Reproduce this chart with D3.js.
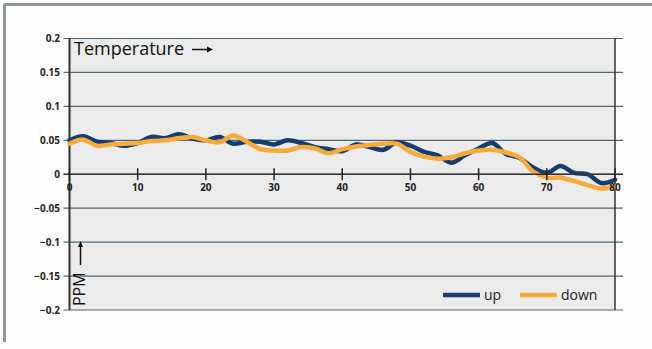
<!DOCTYPE html>
<html>
<head>
<meta charset="utf-8">
<script src="https://cdn.jsdelivr.net/npm/d3@7"></script>
<style>
  body { margin: 0; background: #fdfdfd; }
  svg { display: block; font-family: "Open Sans", sans-serif; }
</style>
</head>
<body>
<div id="chart"></div>
<script>
// x positions (step 2) and the two series
const xs = d3.range(0, 81, 2);
const up = [0.050, 0.056, 0.048, 0.046, 0.042, 0.046, 0.055, 0.053, 0.059, 0.053,
            0.050, 0.055, 0.045, 0.048, 0.048, 0.044, 0.050, 0.046, 0.040, 0.037,
            0.034, 0.044, 0.040, 0.036, 0.047, 0.042, 0.033, 0.028, 0.017, 0.028,
            0.038, 0.046, 0.030, 0.024, 0.010, 0.002, 0.012, 0.002, 0.000, -0.013, -0.008];
const down = [0.045, 0.051, 0.042, 0.044, 0.045, 0.046, 0.049, 0.050, 0.053, 0.055,
              0.050, 0.047, 0.057, 0.048, 0.037, 0.035, 0.035, 0.040, 0.038, 0.031,
              0.037, 0.041, 0.043, 0.045, 0.045, 0.033, 0.026, 0.023, 0.025, 0.031,
              0.035, 0.036, 0.032, 0.025, 0.004, -0.005, -0.005, -0.010, -0.016, -0.021, -0.018];
const xTicks = [0, 10, 20, 30, 40, 50, 60, 70, 80];
const yTicks = [0.2, 0.15, 0.1, 0.05, 0, -0.05, -0.1, -0.15, -0.2];
const seriesNames = ['up', 'down'];
const colors = ['#173d70', '#f6aa38'];

const W = 652, H = 349;
const svg = d3.select('#chart').append('svg').attr('width', W).attr('height', H);

// frame (top + left only)
svg.append('line').attr('x1', 4).attr('x2', W).attr('y1', 4.5).attr('y2', 4.5)
  .attr('stroke', '#8e9893').attr('stroke-width', 3);
svg.append('line').attr('x1', 4.5).attr('x2', 4.5).attr('y1', 4).attr('y2', 342)
  .attr('stroke', '#8e9893').attr('stroke-width', 3);

const x = d3.scaleLinear().domain([0, 80]).range([69.5, 615]);
const y = d3.scaleLinear().domain([-0.2, 0.2]).range([310, 38.5]);

// plot background
svg.append('rect').attr('x', x(0)).attr('y', y(0.2))
  .attr('width', x(80) - x(0)).attr('height', y(-0.2) - y(0.2))
  .attr('fill', '#ebebeb');

// grid lines
svg.append('g').selectAll('line').data(yTicks).enter().append('line')
  .attr('x1', x(0) - 6).attr('x2', x(80) + 8)
  .attr('y1', d => y(d)).attr('y2', d => y(d))
  .attr('stroke', '#4f6878').attr('stroke-width', 1.2);

// y tick labels
svg.append('g').selectAll('text').data(yTicks).enter().append('text')
  .attr('x', 60).attr('y', d => y(d) + 3.5)
  .attr('text-anchor', 'end').attr('font-size', 10).attr('font-weight', 'bold')
  .attr('fill', '#222').text(d => d === 0 ? '0' : d3.format('')(d));

// vertical axes
svg.append('line').attr('x1', x(0)).attr('x2', x(0)).attr('y1', y(0.2)).attr('y2', y(-0.2))
  .attr('stroke', '#333').attr('stroke-width', 2);
svg.append('line').attr('x1', x(80)).attr('x2', x(80)).attr('y1', y(0.2)).attr('y2', y(-0.2))
  .attr('stroke', '#333').attr('stroke-width', 1.5);

// lines
const line = d3.line().x((d, i) => x(xs[i])).y(d => y(d)).curve(d3.curveCatmullRom.alpha(0.5));
[up, down].forEach((s, k) => {
  svg.append('path').datum(s).attr('d', line)
    .attr('fill', 'none').attr('stroke', colors[k]).attr('stroke-width', 4.5)
    .attr('stroke-linejoin', 'round').attr('stroke-linecap', 'round');
});

// x axis at zero with crossing ticks
const xAxis = svg.append('g').attr('transform', `translate(0,${y(0)})`);
xAxis.append('line').attr('x1', x(0) - 6).attr('x2', x(80) + 8)
  .attr('stroke', '#333').attr('stroke-width', 1.5);
xAxis.selectAll('line.tick').data(xTicks).enter().append('line').attr('class', 'tick')
  .attr('x1', d => x(d)).attr('x2', d => x(d)).attr('y1', -6).attr('y2', 6)
  .attr('stroke', '#222').attr('stroke-width', 1.5);
xAxis.selectAll('text').data(xTicks).enter().append('text')
  .attr('x', d => x(d)).attr('y', 17).attr('text-anchor', 'middle')
  .attr('font-size', 10).attr('font-weight', 'bold').attr('fill', '#222').text(d => d);

// axis titles
svg.append('text').attr('x', 74).attr('y', 55).attr('font-size', 18).attr('fill', '#111')
  .text('Temperature');
svg.append('line').attr('x1', 192).attr('x2', 208).attr('y1', 49.5).attr('y2', 49.5)
  .attr('stroke', '#111').attr('stroke-width', 1.5);
svg.append('path').attr('d', 'M207,46.5 L213,49.5 L207,52.5 Z').attr('fill', '#111');

svg.append('text').attr('transform', 'translate(85,306) rotate(-90)')
  .attr('font-size', 16).attr('fill', '#111').text('PPM');
svg.append('line').attr('x1', 80.5).attr('x2', 80.5).attr('y1', 265).attr('y2', 246)
  .attr('stroke', '#111').attr('stroke-width', 1.5);
svg.append('path').attr('d', 'M78,247 L80.5,241 L83,247 Z').attr('fill', '#111');

// legend
const legX = [443, 520];
seriesNames.forEach((n, k) => {
  svg.append('line').attr('x1', legX[k]).attr('x2', legX[k] + 37).attr('y1', 295).attr('y2', 295)
    .attr('stroke', colors[k]).attr('stroke-width', 4.5);
  svg.append('text').attr('x', legX[k] + 41).attr('y', 300).attr('font-size', 14)
    .attr('fill', '#222').text(n);
});
</script>
</body>
</html>
